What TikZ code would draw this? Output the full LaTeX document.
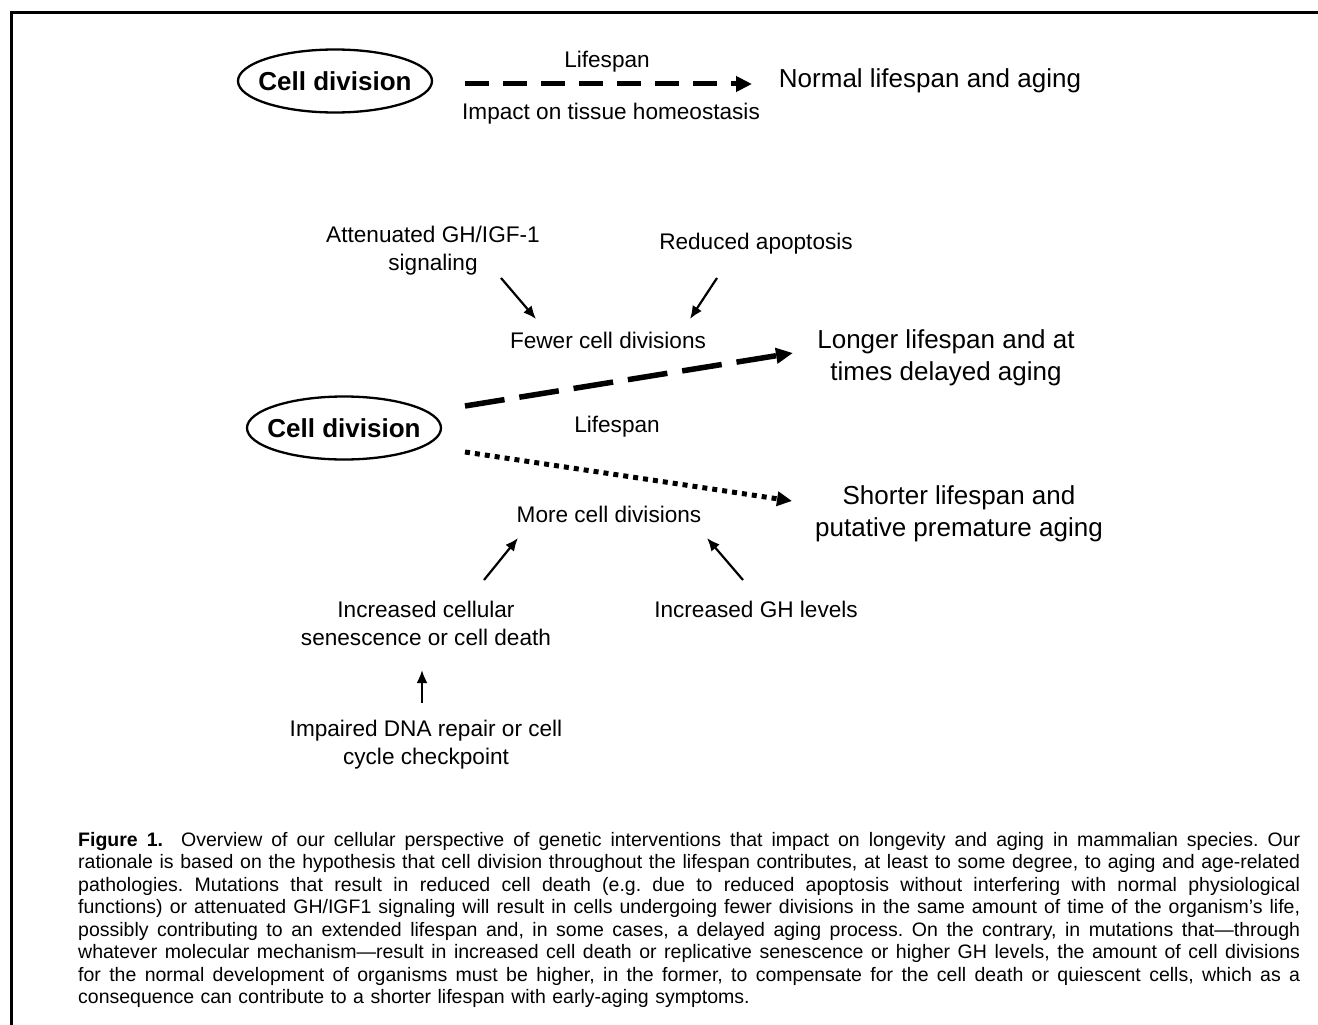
\documentclass[tikz,border=0pt]{standalone}
\usepackage{fontspec}
\setmainfont{Liberation Sans}
\usetikzlibrary{arrows.meta,shapes.geometric}
\newcommand\capspacing{\frenchspacing\spaceskip=0.33em plus 0.6em minus 0.05em\relax}
\begin{document}
\begin{tikzpicture}[x=1pt,y=-1pt,
  txt/.style={inner sep=0pt, font=\fontsize{22.6}{28}\selectfont, align=center},
  bigtxt/.style={inner sep=0pt, font=\fontsize{26}{32}\selectfont, align=center},
  cell/.style={ellipse, draw, line width=2.3pt, minimum width=194pt, minimum height=63pt, inner xsep=-8pt, inner ysep=0pt, font=\fontsize{26}{30}\selectfont\bfseries},
  arr/.style={line width=2.2pt, -{Latex[length=13pt,width=11pt]}},
  dasharr/.style={line width=5pt, dash pattern=on 24pt off 14pt, -{Triangle[length=16pt,width=15pt]}},
  longdash/.style={line width=5.5pt, dash pattern=on 40pt off 15pt, -{Triangle[length=17pt,width=15pt]}},
  dotarr/.style={line width=5pt, dash pattern=on 5pt off 5pt, -{Triangle[length=15pt,width=14pt]}},
  capt/.style={inner sep=0pt, font=\fontsize{19.5}{22.5}\selectfont\capspacing, anchor=base west}
]
\useasboundingbox (0,0) rectangle (1318,1025);
% frame
\draw[line width=3pt] (11.5,1025) -- (11.5,12.5) -- (1318,12.5);

% top section
\node[cell] (cd1) at (335,81) {Cell division};
\node[txt] (ls1) at (607,62) {Lifespan};
\node[txt] (imp) at (611,114) {Impact on tissue homeostasis};
\node[bigtxt] (norm) at (930,81) {Normal lifespan and aging};
\draw[dasharr] ([shift={(130pt,-3pt)}]cd1.center) -- ([shift={(-178pt,-3pt)}]norm.center);

% middle section
\node[txt] (att) at (433,251) {Attenuated GH/IGF-1\\signaling};
\node[txt] (red) at (756,244) {Reduced apoptosis};
\node[txt] (few) at (608,340) {Fewer cell divisions};
\node[bigtxt] (longer) at (946,358) {Longer lifespan and at\\times delayed aging};
\node[cell] (cd2) at (344,428) {Cell division};
\node[txt] (ls2) at (617,427) {Lifespan};
\node[txt] (more) at (609,514) {More cell divisions};
\node[bigtxt] (shorter) at (959,514) {Shorter lifespan and\\putative premature aging};
\node[txt] (inc) at (426,623) {Increased cellular\\senescence or cell death};
\node[txt] (ghl) at (756,609) {Increased GH levels};
\node[txt] (dna) at (426,745) {Impaired DNA repair or cell\\cycle checkpoint};

\draw[arr] ([shift={(68pt,-27pt)}]att.center) -- ([shift={(-72pt,21pt)}]few.center);
\draw[arr] ([shift={(-39pt,-34pt)}]red.center) -- ([shift={(82pt,21pt)}]few.center);
\draw[longdash] ([shift={(121pt,22pt)}]cd2.center) -- ([shift={(-153pt,5pt)}]longer.center);
\draw[dotarr] ([shift={(121pt,-24pt)}]cd2.center) -- ([shift={(-167pt,13pt)}]shorter.center);
\draw[arr] ([shift={(58pt,43pt)}]inc.center) -- ([shift={(-91pt,-24pt)}]more.center);
\draw[arr] ([shift={(-13pt,29pt)}]ghl.center) -- ([shift={(98pt,-24pt)}]more.center);
\draw[arr] ([shift={(-4pt,42pt)}]dna.center) -- ([shift={(-4pt,-47pt)}]inc.center);

% caption
\node[capt] (c1) at (78,846) {\makebox[1222pt][s]{\textbf{Figure 1.}\ \ Overview of our cellular perspective of genetic interventions that impact on longevity and aging in mammalian species. Our}};
\node[capt] (c2) at (78,868) {\makebox[1222pt][s]{rationale is based on the hypothesis that cell division throughout the lifespan contributes, at least to some degree, to aging and age-related}};
\node[capt] (c3) at (78,891) {\makebox[1222pt][s]{pathologies. Mutations that result in reduced cell death (e.g. due to reduced apoptosis without interfering with normal physiological}};
\node[capt] (c4) at (78,913) {\makebox[1222pt][s]{functions) or attenuated GH/IGF1 signaling will result in cells undergoing fewer divisions in the same amount of time of the organism’s life,}};
\node[capt] (c5) at (78,936) {\makebox[1222pt][s]{possibly contributing to an extended lifespan and, in some cases, a delayed aging process. On the contrary, in mutations that—through}};
\node[capt] (c6) at (78,958) {\makebox[1222pt][s]{whatever molecular mechanism—result in increased cell death or replicative senescence or higher GH levels, the amount of cell divisions}};
\node[capt] (c7) at (78,981) {\makebox[1222pt][s]{for the normal development of organisms must be higher, in the former, to compensate for the cell death or quiescent cells, which as a}};
\node[capt] (c8) at (78,1003) {consequence can contribute to a shorter lifespan with early-aging symptoms.};
\end{tikzpicture}
\end{document}
